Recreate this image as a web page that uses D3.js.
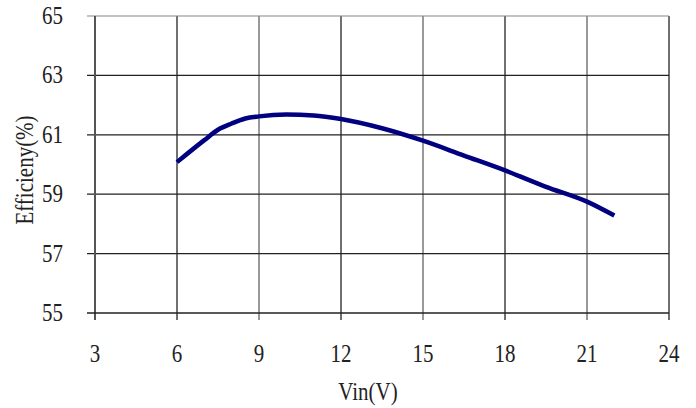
<!DOCTYPE html>
<html>
<head>
<meta charset="UTF-8">
<script src="https://d3js.org/d3.v7.min.js"></script>
<style>
  body { margin: 0; background: #fff; }
  text { font-family: "Liberation Serif", "DejaVu Serif", serif; fill: #222; }
</style>
</head>
<body>
<div id="chart"></div>
<script>
  // data
  const vin = [6, 7, 7.5, 8, 8.5, 9, 10, 11, 12, 13.5, 15, 16.5, 18, 19.5, 21, 22];
  const eff = [60.08, 60.82, 61.17, 61.38, 61.55, 61.62, 61.68, 61.65, 61.53, 61.22, 60.8, 60.3, 59.8, 59.25, 58.75, 58.28];
  const xTicks = [3, 6, 9, 12, 15, 18, 21, 24];
  const yTicks = [55, 57, 59, 61, 63, 65];

  const width = 696, height = 408;
  const margin = { left: 95, right: 27, top: 16, bottom: 95 };
  const squeeze = 0.84; // glyphs in the original are narrow

  const svg = d3.select("#chart").append("svg")
    .attr("width", width).attr("height", height);

  const x = d3.scaleLinear().domain([3, 24]).range([margin.left, width - margin.right]);
  const y = d3.scaleLinear().domain([55, 65]).range([height - margin.bottom, margin.top]);

  // grid
  svg.append("g").selectAll("line").data(xTicks.slice(1)).enter().append("line")
    .attr("x1", d => x(d)).attr("x2", d => x(d))
    .attr("y1", y(65)).attr("y2", y(55) + 7)
    .attr("stroke", (d, i) => i % 2 ? "#555" : "#111").attr("stroke-width", 1.2);
  svg.append("g").selectAll("line").data(yTicks.slice(1)).enter().append("line")
    .attr("x1", x(3) - 8).attr("x2", x(24))
    .attr("y1", d => y(d)).attr("y2", d => y(d))
    .attr("stroke", d => d === 65 ? "#888" : "#222").attr("stroke-width", 1.2);

  // axes lines
  svg.append("line").attr("x1", x(3)).attr("x2", x(3)).attr("y1", y(65)).attr("y2", y(55) + 7)
    .attr("stroke", "#555").attr("stroke-width", 2);
  svg.append("line").attr("x1", x(3) - 8).attr("x2", x(24)).attr("y1", y(55)).attr("y2", y(55))
    .attr("stroke", "#222").attr("stroke-width", 1.5);

  // tick labels
  svg.append("g").selectAll("text").data(xTicks).enter().append("text")
    .attr("transform", d => `translate(${x(d)},362) scale(${squeeze},1)`)
    .attr("text-anchor", "middle").attr("font-size", 25)
    .text(d => d);
  svg.append("g").selectAll("text").data(yTicks).enter().append("text")
    .attr("transform", d => `translate(63,${y(d) + 8}) scale(${squeeze},1)`)
    .attr("text-anchor", "end").attr("font-size", 25)
    .text(d => d);

  // titles
  svg.append("text").attr("transform", `translate(368,400) scale(${squeeze},1)`)
    .attr("text-anchor", "middle").attr("font-size", 25).text("Vin(V)");
  svg.append("text").attr("transform", `translate(33,170) rotate(-90) scale(${squeeze},1)`)
    .attr("text-anchor", "middle").attr("font-size", 25).text("Efficieny(%)");

  // curve
  const line = d3.line().x((d, i) => x(vin[i])).y(d => y(d)).curve(d3.curveMonotoneX);
  svg.append("path").datum(eff)
    .attr("d", line)
    .attr("fill", "none")
    .attr("stroke", "#000080")
    .attr("stroke-width", 4.5);
</script>
</body>
</html>
